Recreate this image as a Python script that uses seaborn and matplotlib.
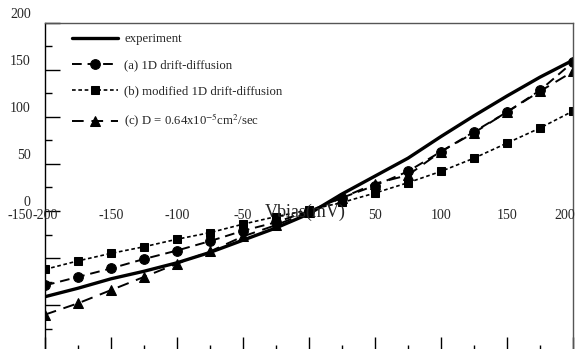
import numpy as np
import pandas as pd
import matplotlib
matplotlib.use("Agg")
import matplotlib.pyplot as plt
import matplotlib.transforms as mtrans
import seaborn as sns

# ---- data ----
vbias = [-200, -175, -150, -125, -100, -75, -50, -25, 0, 25, 50, 75, 100, 125, 150, 175, 200]
experiment = [-91, -82, -72, -64, -55, -44, -31, -18, -3, 18, 37, 56, 79, 101, 122, 142, 160]
model_a = [-79, -70, -61, -51, -42, -32, -21, -12, 0, 14, 27, 42, 63, 84, 105, 128, 158]
model_b = [-62, -53, -45, -38, -30, -23, -14, -6, 1, 9, 19, 30, 42, 56, 72, 88, 106]
model_c = [-110, -98, -84, -70, -56, -43, -27, -15, -1, 14, 29, 38, 63, 83, 105, 127, 148]

labels = ["experiment", "(a) 1D drift-diffusion", "(b) modified 1D drift-diffusion",
          "(c) D = 0.64x10$^{-5}$cm$^{2}$/sec"]
xtick_vals = [-200, -150, -100, -50, 50, 100, 150, 200]
ytick_vals = [0, 50, 100, 150, 200]
xlabel = "Vbias(mV)"

sns.set_style("white")
plt.rcParams['font.family'] = ['Liberation Serif', 'DejaVu Serif']
plt.rcParams['mathtext.fontset'] = 'stix'

fig = plt.figure(figsize=(5.78, 3.49), dpi=100)
ax = fig.add_axes([45/578, 1 - 352.3/349, 528/578, (352.3 - 22.5)/349])

df = pd.DataFrame({"v": vbias, "exp": experiment, "a": model_a, "b": model_b, "c": model_c})

sns.lineplot(data=df, x="v", y="exp", ax=ax, color="black", lw=2.4, label=labels[0])
sns.lineplot(data=df, x="v", y="a", ax=ax, color="black", lw=1.4, ls=(0, (5, 3)),
             marker="o", markersize=7, markeredgecolor="black", label=labels[1])
sns.lineplot(data=df, x="v", y="b", ax=ax, color="black", lw=1.2, ls=(0, (2.2, 1.6)),
             marker="s", markersize=6, markeredgecolor="black", label=labels[2])
sns.lineplot(data=df, x="v", y="c", ax=ax, color="black", lw=1.4, ls=(0, (6, 4)),
             marker="^", markersize=7.5, markeredgecolor="black", label=labels[3])

ax.set_xlim(-200, 200)
ax.set_ylim(-150, 200)
ax.set_xlabel("")
ax.set_ylabel("")

# ticks: inward, no default labels
ax.set_xticks(np.arange(-200, 201, 50))
ax.set_xticks(np.arange(-175, 200, 50), minor=True)
ax.set_yticks(np.arange(-150, 201, 50))
ax.set_yticks(np.arange(-125, 200, 50), minor=True)
ax.tick_params(axis="both", which="both", direction="in", labelbottom=False, labelleft=False,
               top=False, right=False, bottom=True, left=True, color="black")
ax.tick_params(axis="both", which="major", length=11, width=1)
ax.tick_params(axis="both", which="minor", length=5, width=1)

for side in ["top", "right"]:
    ax.spines[side].set_color("#555555")
    ax.spines[side].set_linewidth(1.0)
for side in ["left", "bottom"]:
    ax.spines[side].set_color("black")
    ax.spines[side].set_linewidth(1.0)

# y tick labels (placed slightly above their ticks)
ytr = mtrans.blended_transform_factory(ax.transAxes, ax.transData)
for v in ytick_vals:
    ax.text(-0.027, v + 8.5, str(v), transform=ytr, ha="right", va="center",
            fontsize=10, clip_on=False)

# x tick labels along the zero line
for v in xtick_vals:
    xp = v if v < 200 else 194
    ax.text(xp, -5, str(v), ha="center", va="center", fontsize=10, clip_on=False)
ax.text(-219, -5, "-150", ha="center", va="center", fontsize=10, clip_on=False)
ax.text(-3, -2, xlabel, ha="center", va="center", fontsize=13, clip_on=False)

leg = ax.legend(loc="upper left", bbox_to_anchor=(27/528, 1 - 10.5/330), frameon=False,
                fontsize=9.2, handlelength=3.6, labelspacing=1.12, borderpad=0,
                borderaxespad=0, handletextpad=0.5)

fig.savefig("out.png", dpi=100)
